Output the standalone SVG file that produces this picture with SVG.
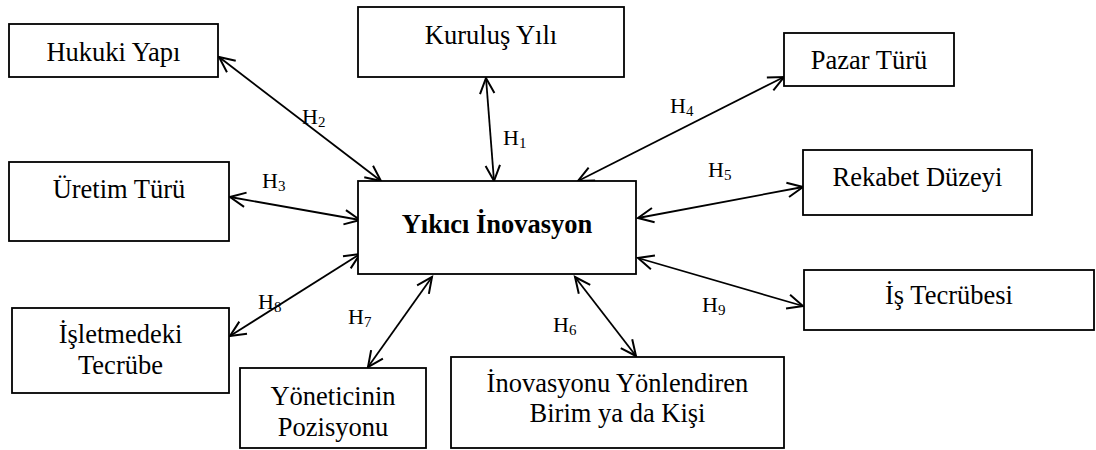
<svg xmlns="http://www.w3.org/2000/svg" width="1096" height="450" viewBox="0 0 1096 450">
<style>
.box{fill:#fff;stroke:#000;stroke-width:1.8}
.c{stroke:#000;stroke-width:1.8;fill:none;marker-start:url(#ah);marker-end:url(#ah)}
</style>
<defs>
<marker id="ah" markerUnits="userSpaceOnUse" markerWidth="20" markerHeight="20" viewBox="-16 -8 18 16" refX="0" refY="0" orient="auto-start-reverse">
<path d="M-14,-6.5 L0,0 L-14,6.5" fill="none" stroke="#000" stroke-width="1.8"/>
</marker>
</defs>
<rect width="1096" height="450" fill="#fff"/>
<g id="connectors">
<line class="c" x1="219" y1="57" x2="381" y2="181"/>
<line class="c" x1="486" y1="78" x2="494" y2="181"/>
<line class="c" x1="578" y1="181" x2="784" y2="77"/>
<line class="c" x1="638" y1="218" x2="803" y2="187"/>
<line class="c" x1="638" y1="258" x2="803" y2="306"/>
<line class="c" x1="575" y1="277" x2="636" y2="356"/>
<line class="c" x1="432" y1="277" x2="368" y2="367"/>
<line class="c" x1="360" y1="254" x2="230" y2="336"/>
<line class="c" x1="230" y1="197" x2="360" y2="220"/>
</g>
<g id="labels" font-family="Liberation Serif, Times New Roman, serif" font-size="22" fill="#000">
<text x="503" y="145">H<tspan font-size="15" dy="3">1</tspan></text>
<text x="302" y="124">H<tspan font-size="15" dy="3">2</tspan></text>
<text x="262" y="188">H<tspan font-size="15" dy="3">3</tspan></text>
<text x="670" y="113">H<tspan font-size="15" dy="3">4</tspan></text>
<text x="708" y="177">H<tspan font-size="15" dy="3">5</tspan></text>
<text x="553" y="332">H<tspan font-size="15" dy="3">6</tspan></text>
<text x="348" y="324">H<tspan font-size="15" dy="3">7</tspan></text>
<text x="258" y="309">H<tspan font-size="15" dy="3">8</tspan></text>
<text x="702" y="312">H<tspan font-size="15" dy="3">9</tspan></text>
</g>
<g id="n-center" font-family="Liberation Serif, Times New Roman, serif" font-size="26.5" text-anchor="middle">
<rect class="box" x="358" y="181" width="278" height="93"/>
<text x="497" y="233" font-weight="bold">Yıkıcı İnovasyon</text>
</g>
<g id="n-hukuki" font-family="Liberation Serif, Times New Roman, serif" font-size="26.5" text-anchor="middle">
<rect class="box" x="9" y="24" width="209" height="53"/>
<text x="113.5" y="61">Hukuki Yapı</text>
</g>
<g id="n-kurulus" font-family="Liberation Serif, Times New Roman, serif" font-size="26.5" text-anchor="middle">
<rect class="box" x="358" y="7" width="266" height="70"/>
<text x="491" y="44">Kuruluş Yılı</text>
</g>
<g id="n-pazar" font-family="Liberation Serif, Times New Roman, serif" font-size="26.5" text-anchor="middle">
<rect class="box" x="784" y="33" width="170" height="53"/>
<text x="869" y="69">Pazar Türü</text>
</g>
<g id="n-rekabet" font-family="Liberation Serif, Times New Roman, serif" font-size="26.5" text-anchor="middle">
<rect class="box" x="803" y="150" width="229" height="65"/>
<text x="917.5" y="186">Rekabet Düzeyi</text>
</g>
<g id="n-uretim" font-family="Liberation Serif, Times New Roman, serif" font-size="26.5" text-anchor="middle">
<rect class="box" x="9" y="162" width="220" height="79"/>
<text x="119" y="198">Üretim Türü</text>
</g>
<g id="n-isletme" font-family="Liberation Serif, Times New Roman, serif" font-size="26.5" text-anchor="middle">
<rect class="box" x="12" y="308" width="217" height="85"/>
<text x="120.5" y="343">İşletmedeki</text>
<text x="120.5" y="374">Tecrübe</text>
</g>
<g id="n-yonetici" font-family="Liberation Serif, Times New Roman, serif" font-size="26.5" text-anchor="middle">
<rect class="box" x="240" y="368" width="186" height="80"/>
<text x="333" y="405">Yöneticinin</text>
<text x="333" y="436">Pozisyonu</text>
</g>
<g id="n-inovasyonu" font-family="Liberation Serif, Times New Roman, serif" font-size="26.5" text-anchor="middle">
<rect class="box" x="451" y="357" width="333" height="91"/>
<text x="617.5" y="392">İnovasyonu Yönlendiren</text>
<text x="617.5" y="422">Birim ya da Kişi</text>
</g>
<g id="n-is" font-family="Liberation Serif, Times New Roman, serif" font-size="26.5" text-anchor="middle">
<rect class="box" x="804" y="270" width="290" height="60"/>
<text x="949" y="304">İş Tecrübesi</text>
</g>
</svg>
